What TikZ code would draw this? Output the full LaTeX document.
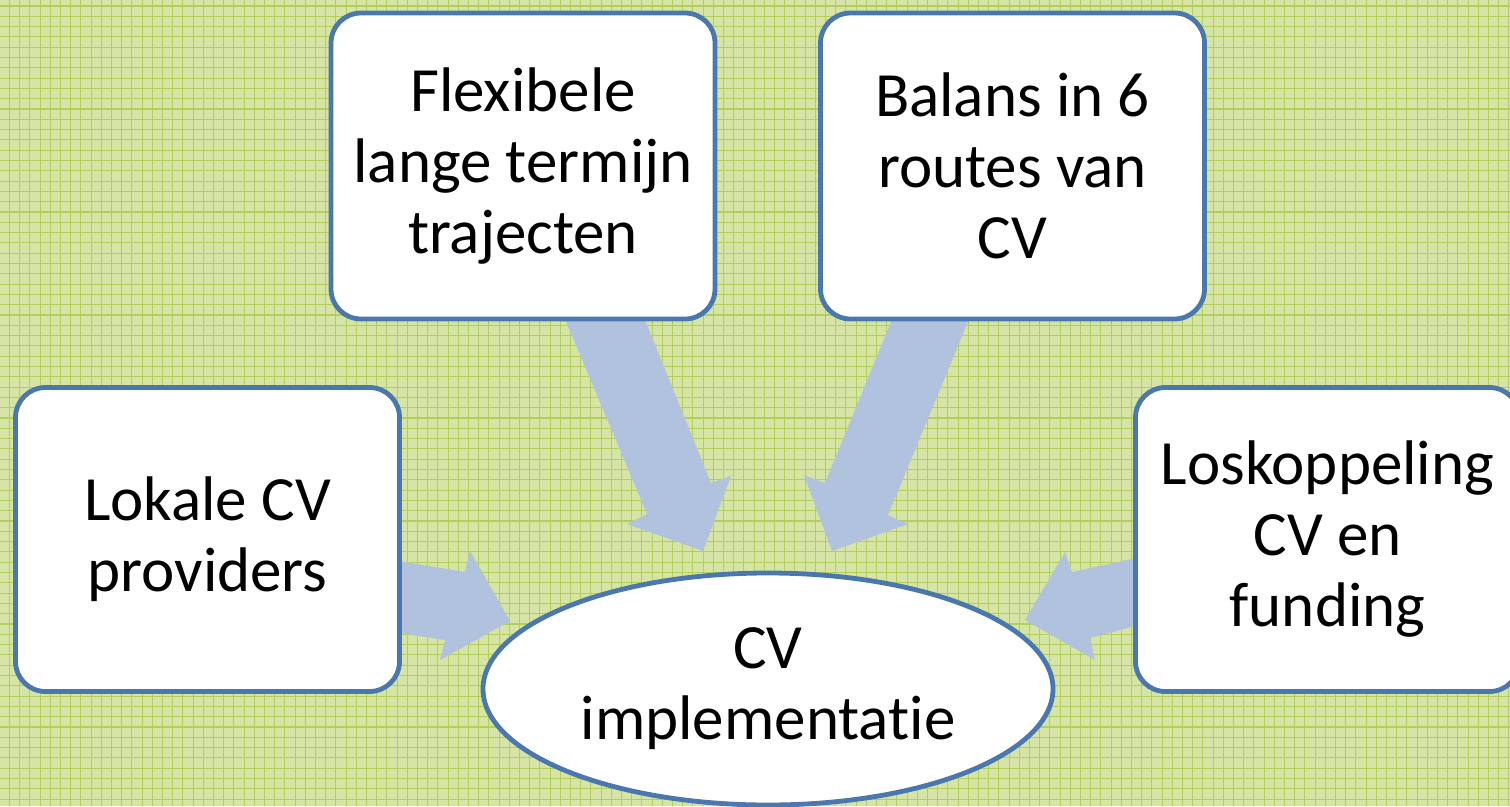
\documentclass[tikz,border=0pt]{standalone}
\usepackage{fontspec}
\setmainfont{Carlito}[Ligatures={NoCommon}]
\usetikzlibrary{shapes.geometric}
\definecolor{bgcol}{HTML}{D6E5A6}
\definecolor{gridcol}{HTML}{B2CF5E}
\definecolor{bordercol}{HTML}{4A77AE}
\definecolor{arrowcol}{HTML}{B0C2DD}
\tikzset{
  gridline/.style={draw=gridcol, line width=1.1pt},
  bigarrow/.style={fill=arrowcol, draw=none},
  box/.style={draw=bordercol, line width=4.8pt, fill=white, rounded corners=30pt,
    minimum width=384pt, minimum height=306pt, align=center, inner sep=0pt,
    font=\fontsize{63}{71}\selectfont},
  oval/.style={draw=bordercol, line width=4.8pt, fill=white, ellipse,
    minimum width=570pt, minimum height=232pt, align=center, inner sep=0pt,
    font=\fontsize{63}{71}\selectfont},
}
\begin{document}
\begin{tikzpicture}[x=1pt,y=-1pt]
\useasboundingbox (0,0) rectangle (1510,806);
\clip (0,0) rectangle (1510,806);
\fill[bgcol] (0,0) rectangle (1510,806);
\foreach \i in {0,...,148} {
  \draw[gridline] ({9.5+10.2*\i},0) -- ({9.5+10.2*\i},806);
}
\foreach \j in {0,...,79} {
  \draw[gridline] (0,{6+10.3*\j}) -- (1510,{6+10.3*\j});
}
% arrows (drawn first, under the boxes)
\fill[bigarrow] (557,300) -- (637,300) -- (711,483) -- (731,476) -- (703,551) -- (627,524) -- (647,514) -- cycle;
\fill[bigarrow] (900,300) -- (977,300) -- (888,515) -- (908,524) -- (832,551) -- (804,475) -- (825,483) -- cycle;
\fill[bigarrow] (380,558) -- (465,572) -- (470,551) -- (510,621) -- (440,660) -- (445,640) -- (380,630) -- cycle;
\fill[bigarrow] (1150,555) -- (1072,572) -- (1065,552) -- (1025,620) -- (1095,660) -- (1090,638) -- (1150,622) -- cycle;
% boxes
\node[box] (flex) at (523,166) {Flexibele\\lange termijn\\trajecten};
\node[box] (bal) at (1012.5,166) {Balans in 6\\routes van\\CV};
\node[box, minimum height=304pt] (lok) at (207.5,539.5) {Lokale CV\\providers};
\node[box, minimum height=304pt] (los) at (1327.5,539.5) {Loskoppeling\\CV en\\funding};
\node[oval] (cv) at (768,689) {CV\\implementatie};
\end{tikzpicture}
\end{document}
